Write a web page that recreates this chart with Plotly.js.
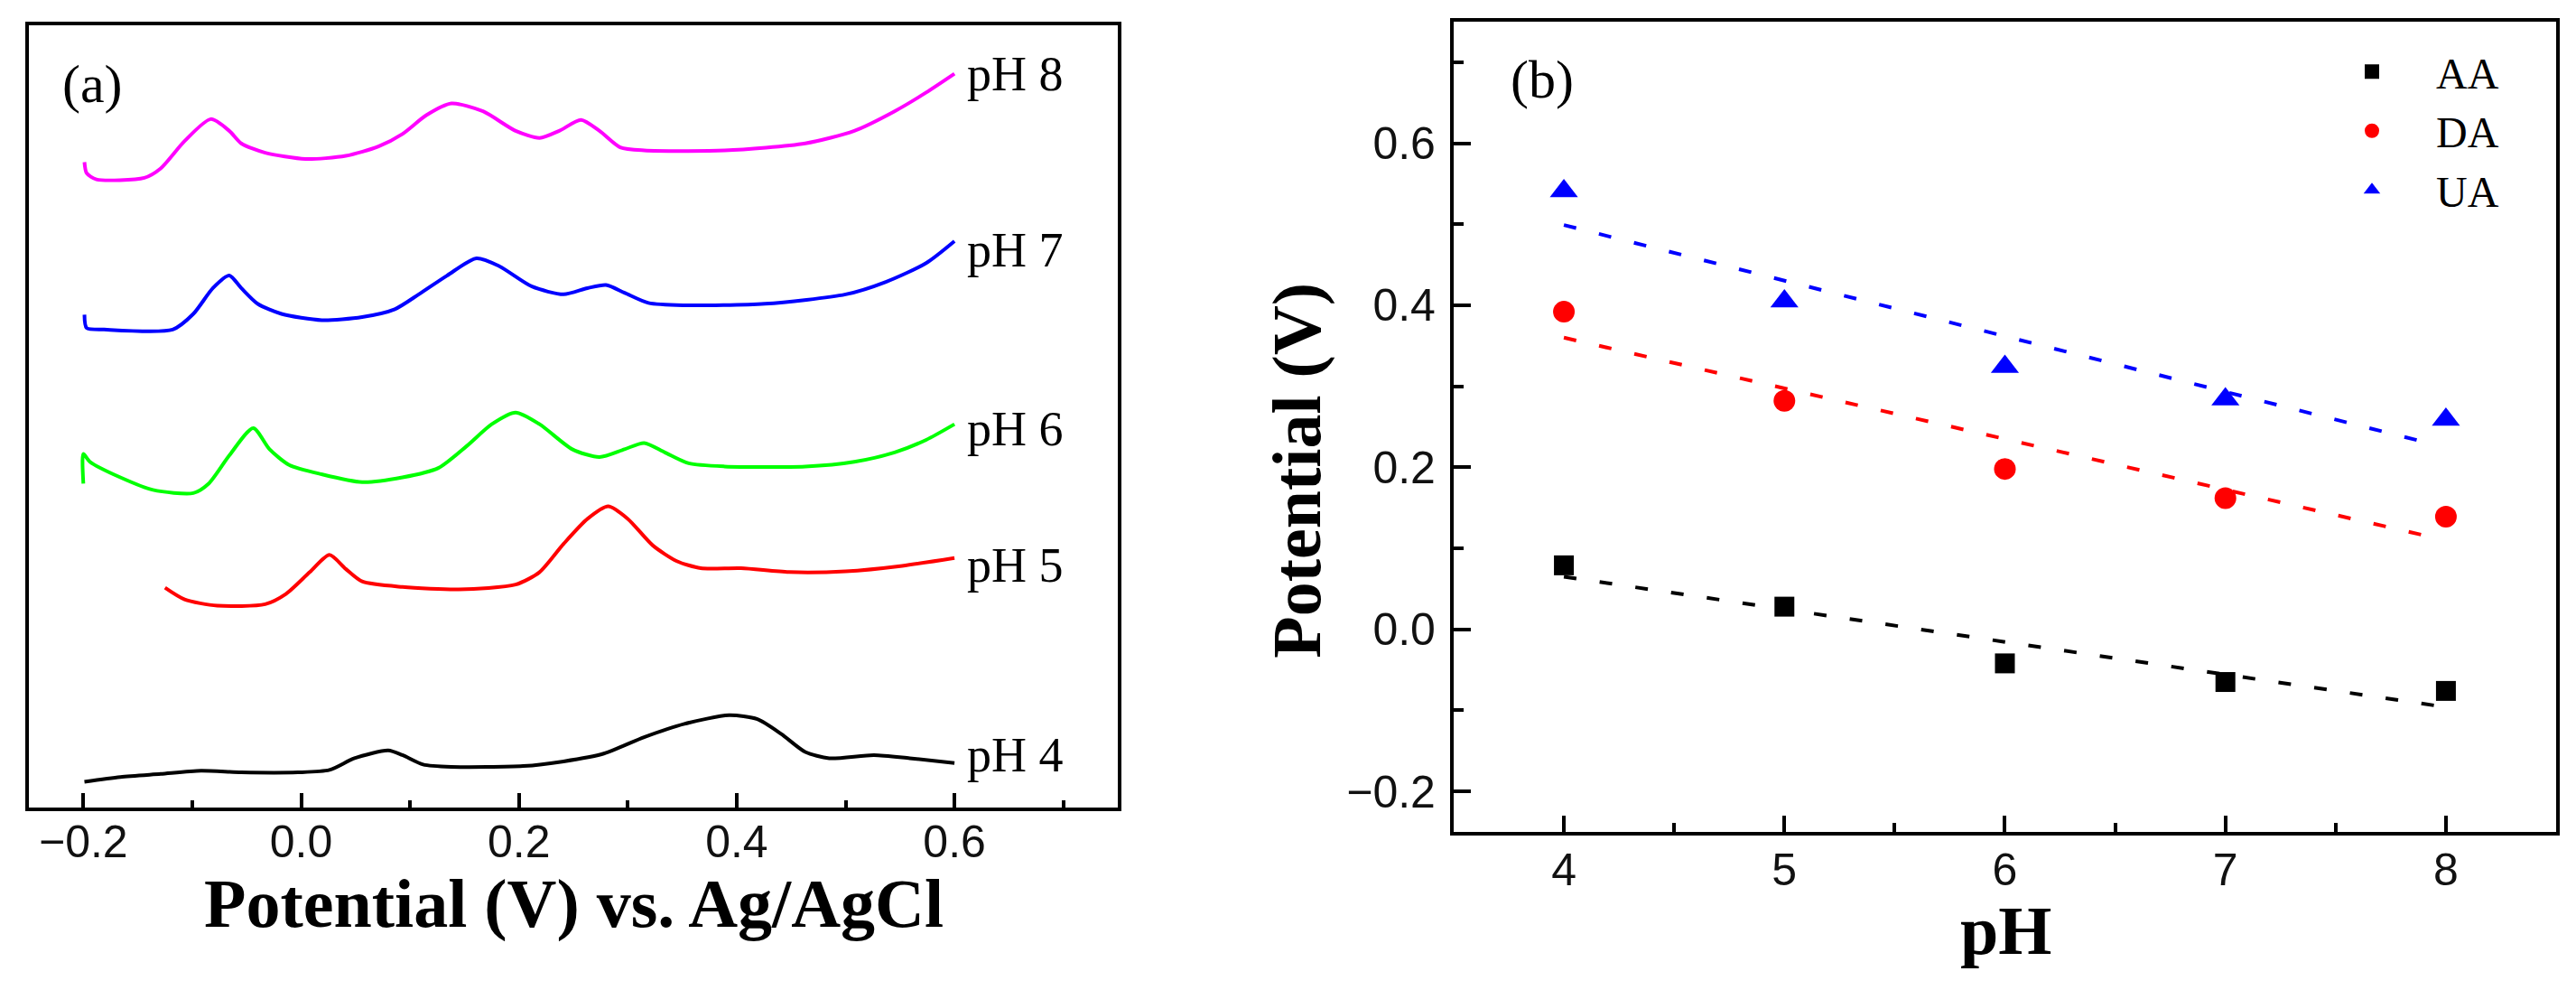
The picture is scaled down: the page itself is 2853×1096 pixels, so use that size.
<!DOCTYPE html>
<html>
<head>
<meta charset="utf-8">
<script src="https://cdn.plot.ly/plotly-3.0.1.min.js"></script>
<style>
  html, body { margin: 0; padding: 0; background: #fff; }
  #chart { width: 2853px; height: 1096px; }
</style>
</head>
<body>
<div id="chart"></div>
<script>
// (a) DPV curves, potential (V vs Ag/AgCl) and offset current (a.u.)
const pH8V = [-0.199, -0.197, -0.188, -0.144, -0.129, -0.107, -0.083, -0.066, -0.055, -0.033, 0.004, 0.041, 0.071, 0.093, 0.115, 0.138, 0.167, 0.197, 0.219, 0.237, 0.257, 0.274, 0.293, 0.315, 0.389, 0.463, 0.508, 0.545, 0.574, 0.600];
const pH8I = [8.25, 8.11, 8.03, 8.05, 8.17, 8.52, 8.80, 8.65, 8.49, 8.37, 8.29, 8.33, 8.45, 8.61, 8.85, 9.00, 8.90, 8.65, 8.56, 8.65, 8.79, 8.65, 8.44, 8.40, 8.40, 8.49, 8.65, 8.90, 9.14, 9.38];

const pH7V = [-0.199, -0.197, -0.181, -0.118, -0.099, -0.081, -0.066, -0.055, -0.040, -0.018, 0.019, 0.056, 0.086, 0.108, 0.134, 0.161, 0.182, 0.212, 0.241, 0.263, 0.280, 0.297, 0.319, 0.352, 0.426, 0.500, 0.537, 0.574, 0.600];
const pH7I = [6.30, 6.13, 6.11, 6.11, 6.31, 6.64, 6.80, 6.64, 6.44, 6.31, 6.23, 6.27, 6.37, 6.56, 6.80, 7.02, 6.92, 6.66, 6.56, 6.64, 6.68, 6.58, 6.45, 6.42, 6.44, 6.56, 6.72, 6.96, 7.24];

const pH6V = [-0.200, -0.200, -0.194, -0.166, -0.136, -0.099, -0.085, -0.066, -0.044, -0.029, -0.011, 0.019, 0.056, 0.093, 0.126, 0.152, 0.175, 0.197, 0.219, 0.249, 0.274, 0.297, 0.315, 0.334, 0.356, 0.389, 0.463, 0.508, 0.545, 0.574, 0.600];
const pH6I = [4.14, 4.52, 4.42, 4.22, 4.06, 4.02, 4.14, 4.50, 4.85, 4.58, 4.38, 4.26, 4.16, 4.22, 4.34, 4.62, 4.90, 5.05, 4.90, 4.58, 4.48, 4.58, 4.66, 4.54, 4.40, 4.36, 4.36, 4.42, 4.54, 4.70, 4.90];

const pH5V = [-0.125, -0.107, -0.077, -0.033, -0.014, 0.008, 0.026, 0.041, 0.056, 0.093, 0.145, 0.197, 0.219, 0.241, 0.263, 0.282, 0.300, 0.323, 0.345, 0.367, 0.404, 0.448, 0.500, 0.552, 0.600];
const pH5I = [2.81, 2.66, 2.58, 2.60, 2.73, 3.01, 3.23, 3.05, 2.89, 2.82, 2.79, 2.85, 3.01, 3.37, 3.69, 3.85, 3.69, 3.35, 3.15, 3.06, 3.06, 3.01, 3.02, 3.09, 3.19];

const pH4V = [-0.199, -0.166, -0.129, -0.092, -0.055, -0.003, 0.026, 0.049, 0.080, 0.093, 0.112, 0.138, 0.204, 0.241, 0.278, 0.315, 0.352, 0.393, 0.419, 0.441, 0.463, 0.485, 0.526, 0.559, 0.600];
const pH4I = [0.33, 0.39, 0.43, 0.47, 0.45, 0.45, 0.48, 0.63, 0.73, 0.67, 0.55, 0.52, 0.53, 0.59, 0.69, 0.90, 1.07, 1.18, 1.13, 0.94, 0.71, 0.63, 0.67, 0.63, 0.57];

const curveNames = ['pH 8', 'pH 7', 'pH 6', 'pH 5', 'pH 4'];
const curveColors = ['#ff00ff', '#0000ff', '#00ff00', '#ff0000', '#000000'];
const labelY = [9.38, 7.12, 4.84, 3.09, 0.67];

// (b) peak potential vs pH
const pHs = [4, 5, 6, 7, 8];
const AA = [0.079, 0.028, -0.042, -0.065, -0.076];
const DA = [0.392, 0.282, 0.198, 0.162, 0.139];
const UA = [0.541, 0.405, 0.324, 0.284, 0.259];
// fitted lines, read at both ends
const fitX = [4, 7.95];
const AAfit = [0.065, -0.094];
const DAfit = [0.360, 0.113];
const UAfit = [0.499, 0.228];

const serif = 'Liberation Serif, Times New Roman, serif';
const sans = 'Liberation Sans, Arial, sans-serif';

const curves = [[pH8V, pH8I], [pH7V, pH7I], [pH6V, pH6I], [pH5V, pH5I], [pH4V, pH4I]];
const traces = curves.map((c, i) => ({
  x: c[0],
  y: c[1],
  type: 'scatter',
  mode: 'lines',
  line: { color: curveColors[i], width: 4, shape: 'spline', smoothing: 0.7 },
  name: curveNames[i],
  showlegend: false,
  xaxis: 'x',
  yaxis: 'y',
}));

const fits = [[AAfit, '#000000'], [DAfit, '#ff0000'], [UAfit, '#0000ff']];
fits.forEach((f) => {
  traces.push({
    x: fitX,
    y: f[0],
    type: 'scatter',
    mode: 'lines',
    line: { color: f[1], width: 4, dash: '14px,26px' },
    showlegend: false,
    xaxis: 'x2',
    yaxis: 'y2',
  });
});

traces.push({
  x: pHs, y: AA, type: 'scatter', mode: 'markers', name: 'AA',
  marker: { symbol: 'square', size: 22, color: '#000000' },
  xaxis: 'x2', yaxis: 'y2',
});
traces.push({
  x: pHs, y: DA, type: 'scatter', mode: 'markers', name: 'DA',
  marker: { symbol: 'circle', size: 24, color: '#ff0000' },
  xaxis: 'x2', yaxis: 'y2',
});
traces.push({
  x: pHs, y: UA, type: 'scatter', mode: 'markers', name: 'UA',
  marker: { symbol: 'triangle-up', size: 27, color: '#0000ff' },
  xaxis: 'x2', yaxis: 'y2',
});

const frame = {
  showline: true, linecolor: '#000', linewidth: 4, mirror: true,
  showgrid: false, zeroline: false,
};

function paperText(text, x, y, size, angle) {
  return {
    text: text, x: x, y: y, xref: 'paper', yref: 'paper',
    xanchor: 'center', yanchor: 'middle', showarrow: false,
    textangle: angle || 0,
    font: { family: serif, size: size, color: '#000' },
  };
}

const annotations = curveNames.map((n, i) => ({
  text: n, x: 0.61, y: labelY[i], xref: 'x', yref: 'y',
  xanchor: 'left', yanchor: 'middle', showarrow: false,
  font: { family: serif, size: 54, color: '#000' },
}));
annotations.push(
  paperText('(a)', 0.0358, 0.915, 60),
  paperText('(b)', 0.5987, 0.92, 60),
  paperText('<b>Potential (V) vs. Ag/AgCl</b>', 0.2226, 0.087, 76),
  paperText('<b>pH</b>', 0.7785, 0.060, 76),
  paperText('<b>Potential (V)</b>', 0.5032, 0.5246, 76, -90),
);

const layout = {
  width: 2853,
  height: 1096,
  margin: { l: 0, r: 0, t: 0, b: 0 },
  paper_bgcolor: '#fff',
  plot_bgcolor: '#fff',
  showlegend: true,
  legend: {
    x: 0.8959, y: 0.962, xanchor: 'left', yanchor: 'top',
    font: { family: serif, size: 48, color: '#000' },
    bgcolor: 'rgba(0,0,0,0)', itemwidth: 132, tracegroupgap: 0,
  },
  xaxis: Object.assign({}, frame, {
    domain: [0.01122, 0.43393], anchor: 'y',
    range: [-0.25, 0.75], dtick: 0.2, tick0: 0, tickformat: '.1f',
    ticks: 'inside', ticklen: 16, tickwidth: 4, tickcolor: '#000',
    minor: { dtick: 0.1, ticks: 'inside', ticklen: 8, tickwidth: 4, tickcolor: '#000' },
    tickfont: { family: sans, size: 50, color: '#111' },
    ticklabelstandoff: -9,
  }),
  yaxis: Object.assign({}, frame, {
    domain: [0.1843, 0.9745], anchor: 'x',
    range: [0, 10], showticklabels: false, ticks: '',
  }),
  xaxis2: Object.assign({}, frame, {
    domain: [0.5643, 0.9923], anchor: 'y2',
    range: [3.5, 8.5], dtick: 1, tick0: 4,
    ticks: 'inside', ticklen: 18, tickwidth: 4, tickcolor: '#000',
    minor: { dtick: 0.5, ticks: 'inside', ticklen: 10, tickwidth: 4, tickcolor: '#000' },
    tickfont: { family: sans, size: 50, color: '#111' },
    ticklabelstandoff: -5,
  }),
  yaxis2: Object.assign({}, frame, {
    domain: [0.1597, 0.9781], anchor: 'x2',
    range: [-0.25, 0.75], dtick: 0.2, tick0: 0, tickformat: '.1f',
    ticks: 'inside', ticklen: 19, tickwidth: 4, tickcolor: '#000',
    minor: { dtick: 0.1, ticks: 'inside', ticklen: 11, tickwidth: 4, tickcolor: '#000' },
    tickfont: { family: sans, size: 50, color: '#111' },
    ticklabelstandoff: 6,
  }),
  annotations: annotations,
};

Plotly.newPlot('chart', traces, layout, { displayModeBar: false, staticPlot: true });
</script>
</body>
</html>
